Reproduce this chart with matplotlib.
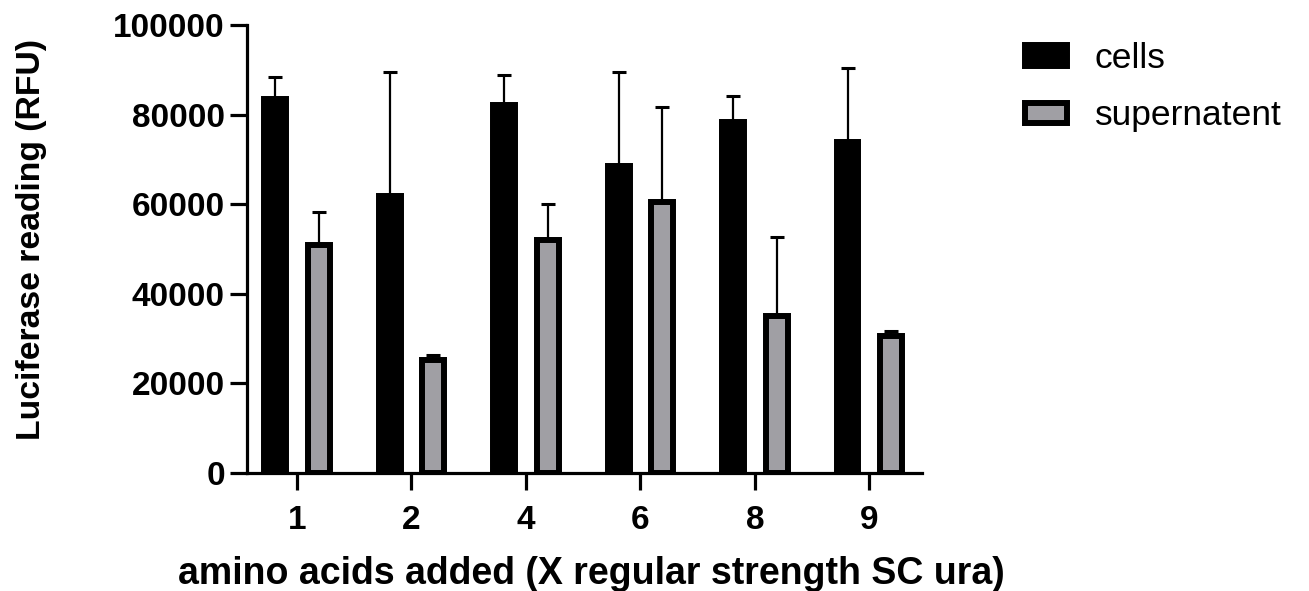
import numpy as np
import matplotlib
matplotlib.use("Agg")
import matplotlib.pyplot as plt

plt.rcParams['font.family'] = ['Liberation Sans', 'DejaVu Sans']

# data
groups = ['1', '2', '4', '6', '8', '9']
cells_mean = [83500, 61800, 82200, 68500, 78300, 73800]
cells_err_top = [88300, 89600, 88800, 89400, 84200, 90300]
super_mean = [51000, 25200, 52100, 60500, 35000, 30500]
super_err_top = [58200, 26400, 60000, 81800, 52700, 31800]

cells_sd = np.array(cells_err_top) - np.array(cells_mean)
super_sd = np.array(super_err_top) - np.array(super_mean)

gray = '#a09fa4'

fig = plt.figure(figsize=(13.09, 5.91), dpi=100)
ax = fig.add_axes([247/1309, 1 - 473/591, (922-247)/1309, (473-25)/591])

x = np.arange(len(groups))
off = 0.19
w = 0.19

ax.bar(x - off, cells_mean, w, color='black', edgecolor='black', linewidth=4.3,
       label='cells', zorder=2)
ax.bar(x + off, super_mean, w, color=gray, edgecolor='black', linewidth=4.3,
       label='supernatent', zorder=2)

# one-sided (upper) error bars, Prism style
for xs, m, sd in [(x - off, cells_mean, cells_sd), (x + off, super_mean, super_sd)]:
    ax.errorbar(xs, m, yerr=[np.zeros_like(sd), sd], fmt='none', ecolor='black',
                elinewidth=1.6, capsize=4.7, capthick=2.2, zorder=1)

ax.set_xlim(-0.437, 5.46)
ax.set_ylim(0, 100000)
ax.set_xticks(x)
ax.set_xticklabels(groups)
ax.set_yticks(np.arange(0, 100001, 20000))

for s in ['top', 'right']:
    ax.spines[s].set_visible(False)
for s in ['left', 'bottom']:
    ax.spines[s].set_linewidth(2.3)
    ax.spines[s].set_zorder(3)

ax.tick_params(axis='both', direction='out', length=12, width=2.3, labelsize=24)
ax.tick_params(axis='y', pad=4)
ax.tick_params(axis='x', pad=11)
for lab in ax.get_xticklabels() + ax.get_yticklabels():
    lab.set_fontweight('bold')

ax.set_ylabel('Luciferase reading (RFU)', fontsize=24.3, fontweight='bold')
ax.yaxis.set_label_coords(-0.297, 0.522)
ax.set_xlabel('amino acids added (X regular strength SC ura)', fontsize=27,
              fontweight='bold')
ax.xaxis.set_label_coords(0.51, -0.186)

ax.legend(loc='upper left', bbox_to_anchor=(1025/1309, 1 - 42/591),
          bbox_transform=fig.transFigure, frameon=False, fontsize=25.5,
          handlelength=1.19, handleheight=0.51, labelspacing=0.69,
          handletextpad=0.78, borderpad=0, borderaxespad=0)

fig.savefig('out.png', dpi=100)
